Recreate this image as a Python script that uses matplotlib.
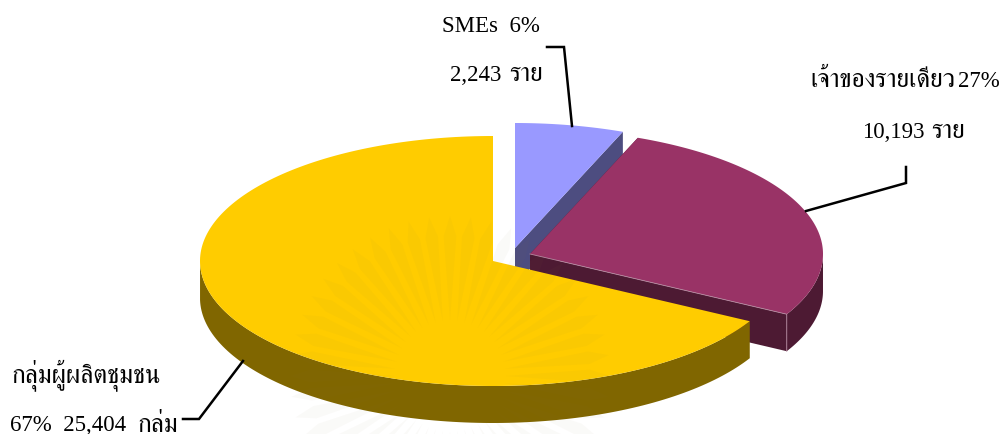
import numpy as np
import matplotlib
matplotlib.use("Agg")
import matplotlib.pyplot as plt

# values from the chart labels, clockwise from 12 o'clock
labels = ["SMEs", "เจ้าของรายเดียว", "กลุ่มผู้ผลิตชุมชน"]
counts = [2243, 10193, 25404]
percents = [6, 27, 67]
top_colors = ["#9999FF", "#993366", "#FFCC00"]
side_colors = ["#4D4D80", "#4D1A33", "#806600"]
centers = [(515, 249), (530, 255), (493, 262)]

RX, RY, DEPTH = 293, 125, 37

fig = plt.figure(figsize=(10.03, 4.35), dpi=100)
ax = fig.add_axes([0, 0, 1, 1])
ax.set_xlim(0, 1003)
ax.set_ylim(435, 0)
ax.axis("off")

edges = np.cumsum([0] + percents) / sum(percents) * 2 * np.pi


def rim(i, n=200):
    t = np.linspace(edges[i], edges[i + 1], n)
    cx, cy = centers[i]
    return cx + RX * np.sin(t), cy - RY * np.cos(t), t


for i in range(3):
    cx, cy = centers[i]
    x, y, t = rim(i)
    # cut faces of the slice
    if i < 2:
        ax.fill([cx, x[0], x[0], cx], [cy, y[0], y[0] + DEPTH, cy + DEPTH],
                color=side_colors[i], lw=0)
        ax.fill([cx, x[-1], x[-1], cx], [cy, y[-1], y[-1] + DEPTH, cy + DEPTH],
                color=side_colors[i], lw=0)
    # outer wall, only the part facing the viewer
    front = np.cos(t) < 0.0
    if i == 1:
        front = t > np.pi / 2
    if front.any():
        xs = x[front]
        ys = y[front]
        ax.fill(np.r_[xs, xs[::-1]], np.r_[ys, ys[::-1] + DEPTH], color=side_colors[i], lw=0)
    if i == 1:
        ax.plot([cx, x[-1], x[-1]], [cy, y[-1], y[-1] + DEPTH], color="#B58AA0", lw=0.6)
    ax.fill(np.r_[cx, x], np.r_[cy, y], color=top_colors[i], lw=0)

# faint seal behind the chart, shows through as rays
ox, oy = 450, 377
for a in np.arange(0, 360, 7.5):
    r = np.radians(a)
    d = np.radians(2.6)
    xs = [ox + 55 * np.sin(r), ox + 140 * np.sin(r - d), ox + 160 * np.sin(r), ox + 140 * np.sin(r + d)]
    ys = [oy - 55 * np.cos(r), oy - 140 * np.cos(r - d), oy - 160 * np.cos(r), oy - 140 * np.cos(r + d)]
    ax.fill(xs, ys, color="#8A7A40", alpha=0.035, lw=0)

# leader lines
line_kw = dict(color="black", lw=1.8, solid_joinstyle="miter")
ax.plot([547, 564, 572], [48, 48, 127], **line_kw)
ax.plot([906, 906, 806], [168, 184, 212], **line_kw)
ax.plot([183, 199, 243], [420, 420, 362], **line_kw)

# the Thai runs are set larger than the digits, as in the original
lat_kw = dict(family=["Liberation Serif", "DejaVu Sans"], fontsize=16.5, color="black", va="baseline")
thai_kw = dict(family=["FreeSerif", "DejaVu Sans"], fontsize=18.5, color="black", va="baseline")

ax.text(442, 32, f"{labels[0]}  {percents[0]}%", **lat_kw)
ax.text(450, 81, f"{counts[0]:,}", **lat_kw)
ax.text(509, 81, "ราย", **thai_kw)

ax.text(810, 87, labels[1], **thai_kw)
ax.text(1000, 87, f"{percents[1]}%", ha="right", **lat_kw)
ax.text(862, 138, f"{counts[1]:,}", **lat_kw)
ax.text(931, 138, "ราย", **thai_kw)

ax.text(12, 382, labels[2], **thai_kw)
ax.text(10, 431, f"{percents[2]}%  {counts[2]:,}", **lat_kw)
ax.text(138, 431, "กลุ่ม", **thai_kw)

fig.savefig("out.png", dpi=100)
